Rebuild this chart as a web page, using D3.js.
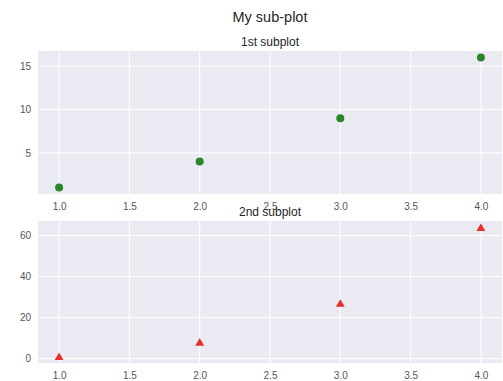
<!DOCTYPE html>
<html><head><meta charset="utf-8">
<script src="https://cdn.jsdelivr.net/npm/d3@7"></script>
<style>
body{margin:0;background:#fff;}
svg text{font-family:"Liberation Sans",Arial,sans-serif;}
</style></head>
<body>
<script>
const xValues = [1, 2, 3, 4];
const squares = [1, 4, 9, 16];
const cubes = [1, 8, 27, 64];
const xTicks = [1.0, 1.5, 2.0, 2.5, 3.0, 3.5, 4.0];
const yTicksTop = [5, 10, 15];
const yTicksBottom = [0, 20, 40, 60];
const suptitle = "My sub-plot";
const titles = ["1st subplot", "2nd subplot"];

const W = 503, H = 381;
const svg = d3.select("body").append("svg").attr("width", W).attr("height", H);

svg.append("text").attr("x", 270).attr("y", 22).attr("text-anchor", "middle")
  .attr("font-size", 14.5).attr("fill", "#262626").text(suptitle);

const left = 38, right = 502;
const x = d3.scaleLinear().domain([0.85, 4.15]).range([left, right]);

function panel(top, bottom, ydomain, yticks, vals, title, marker, color) {
  const y = d3.scaleLinear().domain(ydomain).range([bottom, top]);
  const g = svg.append("g");
  g.append("rect").attr("x", left).attr("y", top).attr("width", right - left)
    .attr("height", bottom - top).attr("fill", "#EAEAF2");
  g.selectAll(".gx").data(xTicks).join("line")
    .attr("x1", d => x(d)).attr("x2", d => x(d)).attr("y1", top).attr("y2", bottom)
    .attr("stroke", "#fff").attr("stroke-width", 1);
  g.selectAll(".gy").data(yticks).join("line")
    .attr("y1", d => y(d)).attr("y2", d => y(d)).attr("x1", left).attr("x2", right)
    .attr("stroke", "#fff").attr("stroke-width", 1);
  const xa = d3.axisBottom(x).tickValues(xTicks).tickFormat(d3.format(".1f")).tickSize(0).tickPadding(9);
  const xg = g.append("g").attr("transform", `translate(0,${bottom})`).call(xa);
  xg.select(".domain").remove();
  xg.selectAll("text").attr("font-size", 10).attr("fill", "#555")
    .attr("font-family", '"Liberation Sans",Arial,sans-serif');
  const ya = d3.axisLeft(y).tickValues(yticks).tickFormat(d3.format("d")).tickSize(0).tickPadding(7);
  const yg = g.append("g").attr("transform", `translate(${left},0)`).call(ya);
  yg.select(".domain").remove();
  yg.selectAll("text").attr("font-size", 10).attr("fill", "#555")
    .attr("font-family", '"Liberation Sans",Arial,sans-serif');
  svg.append("text").attr("x", 270).attr("y", top - 5).attr("text-anchor", "middle")
    .attr("font-size", 12).attr("fill", "#262626").text(title);
  const sym = d3.symbol().type(marker === "o" ? d3.symbolCircle : d3.symbolTriangle)
    .size(marker === "o" ? 50 : 34);
  g.selectAll(".m").data(vals).join("path")
    .attr("transform", (d, i) => `translate(${x(xValues[i])},${y(d) + (marker === "o" ? 0 : 1)})`)
    .attr("d", sym).attr("fill", color);
}

panel(51, 194, [0.25, 16.75], yTicksTop, squares, titles[0], "o", "#2a862a");
panel(221, 363, [-2.15, 67.15], yTicksBottom, cubes, titles[1], "^", "#e8302a");
</script>
</body></html>
